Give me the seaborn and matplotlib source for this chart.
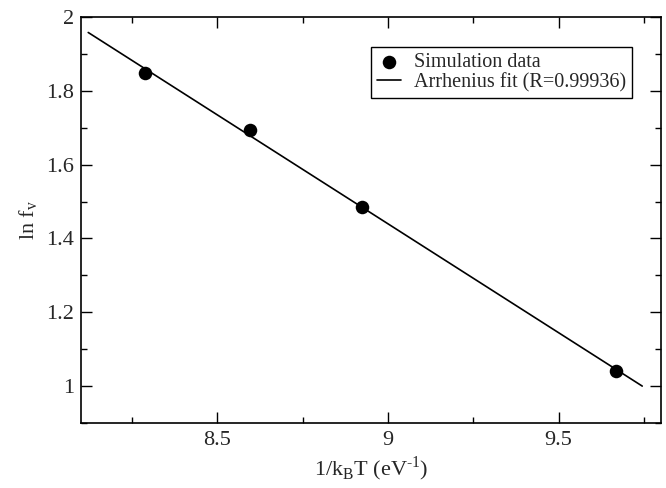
import matplotlib
matplotlib.use("Agg")
import matplotlib.pyplot as plt
from matplotlib.ticker import MultipleLocator, FuncFormatter
import seaborn as sns
import pandas as pd

# Data
inv_kT = [8.288, 8.595, 8.925, 9.667]
ln_fv = [1.848, 1.695, 1.486, 1.040]
fit_x = [8.122, 9.745]
fit_y = [1.958, 1.000]
sim_label = "Simulation data"
fit_label = "Arrhenius fit (R=0.99936)"

sns.set_theme(style="ticks")
plt.rcParams['font.family'] = ['Liberation Serif', 'DejaVu Serif']
plt.rcParams['mathtext.fontset'] = 'custom'
plt.rcParams['mathtext.rm'] = 'Liberation Serif'
plt.rcParams['axes.unicode_minus'] = False

df_pts = pd.DataFrame({"x": inv_kT, "y": ln_fv})
df_fit = pd.DataFrame({"x": fit_x, "y": fit_y})

fig = plt.figure(figsize=(6.66, 4.88), dpi=100)
ax = fig.add_axes([0.1212, 0.1332, 0.8713, 0.832])

sns.lineplot(data=df_fit, x="x", y="y", ax=ax, color="black", linewidth=1.2,
             label=fit_label, zorder=2)
sns.scatterplot(data=df_pts, x="x", y="y", ax=ax, color="black", s=95,
                edgecolor="black", linewidth=0, label=sim_label, zorder=3)

ax.set_xlim(8.1, 9.8)
ax.set_ylim(0.9, 2.0)
ax.xaxis.set_major_locator(MultipleLocator(0.5))
ax.xaxis.set_minor_locator(MultipleLocator(0.25))
ax.yaxis.set_major_locator(MultipleLocator(0.2))
ax.yaxis.set_minor_locator(MultipleLocator(0.1))
fmt = FuncFormatter(lambda v, p: "%g" % round(v, 4))
ax.xaxis.set_major_formatter(fmt)
ax.yaxis.set_major_formatter(fmt)

ax.tick_params(which="both", direction="in", top=True, right=True,
               width=1.0, color="black", labelsize=16)
ax.tick_params(axis="y", pad=5)
ax.tick_params(axis="x", pad=6)
ax.tick_params(which="major", length=8)
ax.tick_params(which="minor", length=4)
for s in ax.spines.values():
    s.set_linewidth(1.2)
    s.set_color("black")

ax.set_xlabel(r"1/k$_\mathregular{B}$T (eV$^\text{-1}$)", fontsize=16, labelpad=3)
ax.set_ylabel(r"ln f$_\mathregular{v}$", fontsize=16, labelpad=4)

handles, labels = ax.get_legend_handles_labels()
order = [labels.index(sim_label), labels.index(fit_label)]
leg = ax.legend([handles[i] for i in order], [labels[i] for i in order],
                loc="upper right", bbox_to_anchor=(0.9495, 0.9268),
                borderaxespad=0, fontsize=14.5, frameon=True, fancybox=False,
                edgecolor="black", framealpha=1, handlelength=1.2,
                handletextpad=0.6, borderpad=0.3, labelspacing=0.05)
leg.get_frame().set_linewidth(1.0)

fig.savefig("out.png", dpi=100)
